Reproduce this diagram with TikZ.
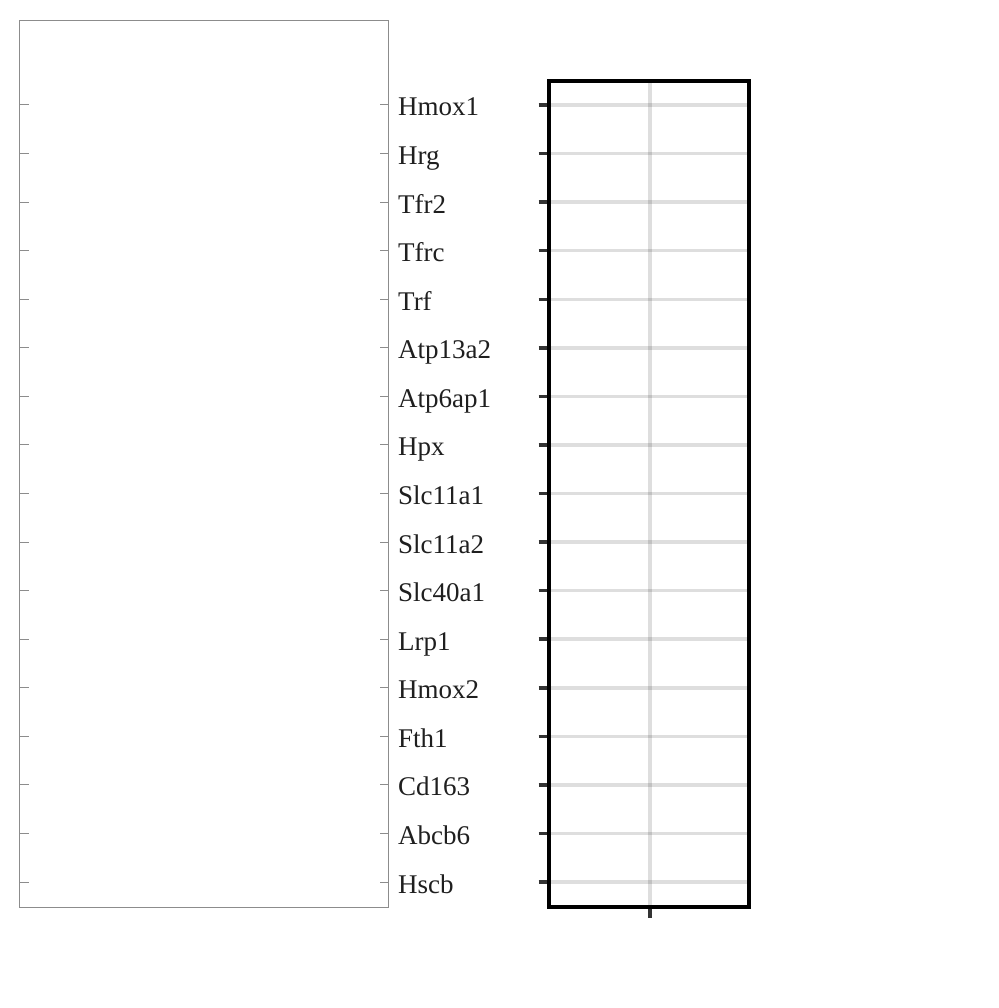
\documentclass[tikz,border=0pt]{standalone}
\usepackage{fontspec}
\setmainfont{Liberation Serif}
\definecolor{framegray}{HTML}{8C8C8C}
\definecolor{tickdark}{HTML}{333333}
\begin{document}
\begin{tikzpicture}[x=1pt,y=-1pt,
  leftframe/.style={draw=framegray,line width=1pt},
  lefttick/.style={draw=framegray,line width=1pt},
  genelabel/.style={anchor=base west,inner sep=0pt,font=\fontsize{27}{31}\selectfont,text=black!88},
  gridline/.style={draw=black,draw opacity=0.13,line width=3.5pt},
  rightframe/.style={draw=black,line width=4pt},
  righttick/.style={draw=tickdark,line width=3.5pt}]
\useasboundingbox[fill=white] (0,0) rectangle (998,1008);
% left panel
\draw[leftframe] (19.5,20.5) rectangle (388.5,907.5);
\foreach \g [count=\i from 0] in {Hmox1,Hrg,Tfr2,Tfrc,Trf,Atp13a2,Atp6ap1,Hpx,Slc11a1,Slc11a2,Slc40a1,Lrp1,Hmox2,Fth1,Cd163,Abcb6,Hscb}{
  \pgfmathsetmacro{\yy}{105+\i*48.5625}
  \draw[lefttick] (19.5,\yy) -- (28.5,\yy);
  \draw[lefttick] (388.5,\yy) -- (379.5,\yy);
  \node[genelabel] (lab\i) at (398,\yy+11) {\g};
  % right panel grid
  \draw[gridline] (549,\yy) -- (749,\yy);
  \draw[righttick] (538.5,\yy) -- (549,\yy);
}
\draw[gridline] (650,81) -- (650,907);
\draw[righttick] (650,907) -- (650,917.5);
\draw[rightframe] (549,81) rectangle (749,907);
\end{tikzpicture}
\end{document}
